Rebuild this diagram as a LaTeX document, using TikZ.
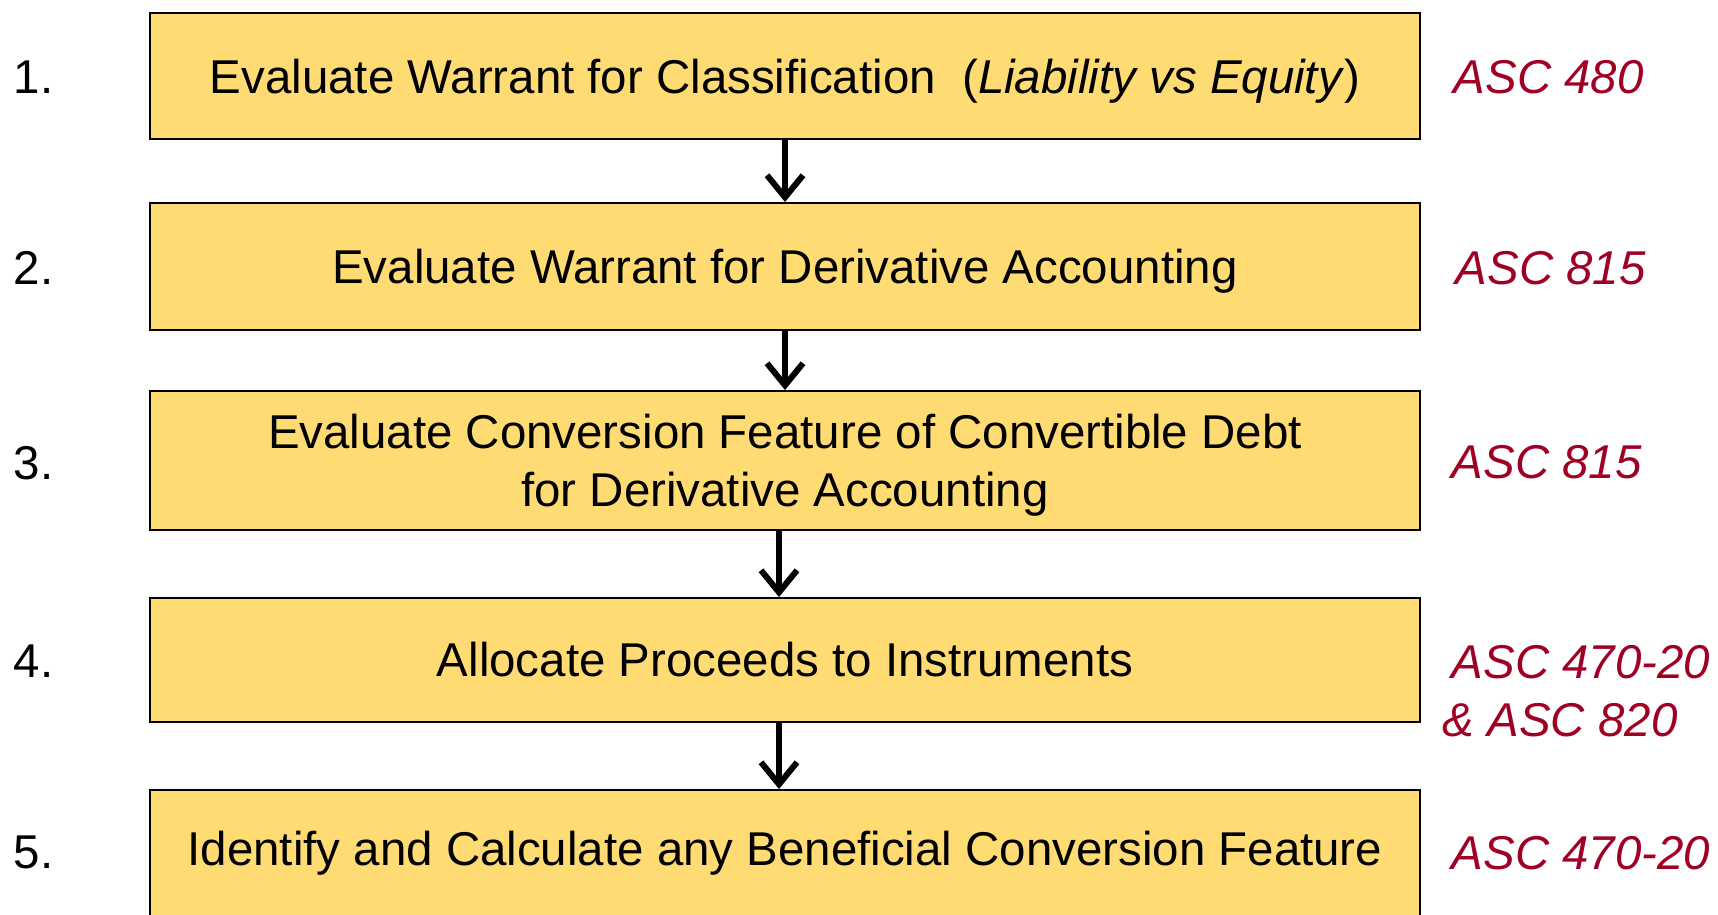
\documentclass[tikz,border=0pt]{standalone}
\usepackage{fontspec}
\setmainfont{Liberation Sans}
\usepackage{tikz}
\usetikzlibrary{arrows.meta}

\definecolor{stepyellow}{RGB}{255,219,115}
\definecolor{ascred}{RGB}{160,0,35}

\tikzset{
  stepbox/.style={shape=rectangle,draw,line width=0.02cm,fill=stepyellow,
    minimum width=12.7cm,inner sep=0pt,align=center,
    font=\fontsize{13.5}{16.5}\selectfont},
  low/.style={text depth=0pt},
  num/.style={anchor=west,inner sep=0pt,font=\fontsize{13.5}{16.5}\selectfont},
  asc/.style={anchor=west,inner sep=0pt,align=left,text=ascred,
    font=\fontsize{13.5}{16.5}\selectfont\itshape},
  flow/.style={line width=0.065cm,-{Straight Barb[length=0.22cm,width=0.36cm,line width=0.06cm]}}
}

\begin{document}
\begin{tikzpicture}
\useasboundingbox (0,0) rectangle (17.18,-9.14);
\clip (0,0) rectangle (17.18,-9.14);
\node (b1) at (7.85,-0.76) [stepbox,low,minimum height=1.26cm] {Evaluate Warrant for Classification~ (\textit{Liability vs Equity})};
\node (b2) at (7.85,-2.665) [stepbox,low,minimum height=1.27cm] {Evaluate Warrant for Derivative Accounting};
\node (b3) at (7.85,-4.605) [stepbox,low,minimum height=1.39cm] {Evaluate Conversion Feature of Convertible Debt\\for Derivative Accounting};
\node (b4) at (7.85,-6.60) [stepbox,minimum height=1.24cm] {Allocate Proceeds to Instruments};
\node (b5) at (7.85,-8.53) [stepbox,minimum height=1.26cm] {Identify and Calculate any Beneficial Conversion Feature};
\node (n1) at (0.13,-0.77) [num] {1.};
\node (n2) at (0.13,-2.68) [num] {2.};
\node (n3) at (0.13,-4.63) [num] {3.};
\node (n4) at (0.13,-6.61) [num] {4.};
\node (n5) at (0.13,-8.52) [num] {5.};
\node (a1) at (14.53,-0.77) [asc] {ASC 480};
\node (a2) at (14.55,-2.68) [asc] {ASC 815};
\node (a3) at (14.51,-4.62) [asc] {ASC 815};
\node (a4) at (14.42,-6.91) [asc] {\hspace{0.09cm}ASC 470-20\\\& ASC 820};
\node (a5) at (14.51,-8.53) [asc] {ASC 470-20};
\draw [flow] (b1) -- (b2);
\draw [flow] (b2) -- (b3);
\draw [flow] ([xshift=-0.06cm]b3.south) -- ([xshift=-0.06cm]b4.north);
\draw [flow] ([xshift=-0.06cm]b4.south) -- ([xshift=-0.06cm]b5.north);
\end{tikzpicture}
\end{document}
